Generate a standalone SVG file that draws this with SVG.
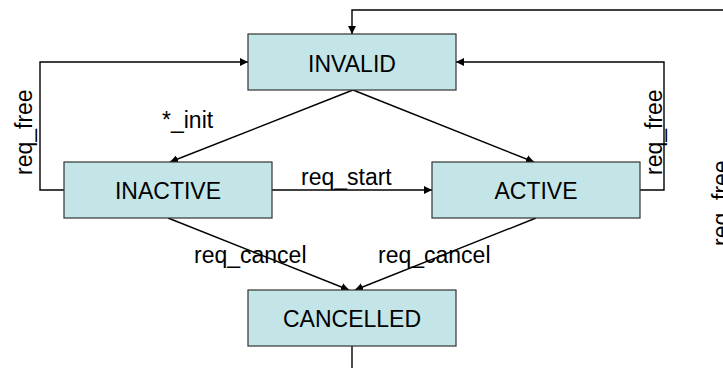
<svg xmlns="http://www.w3.org/2000/svg" width="723" height="368" viewBox="0 0 723 368">
<defs>
<style>
.node rect{fill:#C4E5E8;stroke:#333;stroke-width:1.2}
text{font-family:"Liberation Sans",Arial,sans-serif;font-size:23px;fill:#000}
.node text{text-anchor:middle}
.conn path{fill:none;stroke:#000;stroke-width:1.4}
</style>
<marker id="ah" viewBox="0 0 10 10" refX="10" refY="5" markerWidth="8" markerHeight="8" markerUnits="userSpaceOnUse" orient="auto">
<path d="M0,0 L10,5 L0,10 z" fill="#000"/>
</marker>
</defs>
<rect width="723" height="368" fill="#fff"/>
<g id="connectors" class="conn">
<path d="M353,90 L170,162" marker-end="url(#ah)"/>
<path d="M353,90 L534,162" marker-end="url(#ah)"/>
<path d="M272,190 L432,190" marker-end="url(#ah)"/>
<path d="M168,218 L349,290" marker-end="url(#ah)"/>
<path d="M536,218 L355,290" marker-end="url(#ah)"/>
<path d="M64,190 L40,190 L40,62 L248,62" marker-end="url(#ah)"/>
<path d="M640,190 L664,190 L664,62 L456,62" marker-end="url(#ah)"/>
<path d="M352,346 L352,380 L740,380 L740,10 L352,10 L352,34" marker-end="url(#ah)"/>
</g>
<g id="labels">
<text x="162" y="128">*_init</text>
<text x="301" y="185">req_start</text>
<text x="194" y="263">req_cancel</text>
<text x="378" y="263">req_cancel</text>
<text transform="translate(31.5,175) rotate(-90)">req_free</text>
<text transform="translate(662,175) rotate(-90)">req_free</text>
<text transform="translate(728.5,246) rotate(-90)">req_free</text>
</g>
<g id="INVALID" class="node"><rect x="248" y="34" width="208" height="56"/><text x="352" y="72">INVALID</text></g>
<g id="INACTIVE" class="node"><rect x="64" y="162" width="208" height="56"/><text x="168" y="199">INACTIVE</text></g>
<g id="ACTIVE" class="node"><rect x="432" y="162" width="208" height="56"/><text x="536" y="199">ACTIVE</text></g>
<g id="CANCELLED" class="node"><rect x="248" y="290" width="208" height="56"/><text x="352" y="327">CANCELLED</text></g>
</svg>
